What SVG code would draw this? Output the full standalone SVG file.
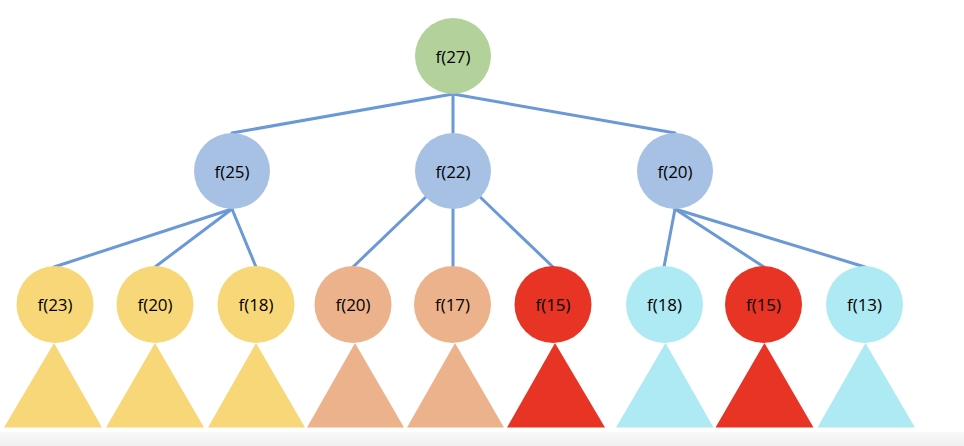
<svg xmlns="http://www.w3.org/2000/svg" width="964" height="446" viewBox="0 0 964 446">
  <defs>
    <linearGradient id="bar" x1="0" y1="0" x2="0" y2="1">
      <stop offset="0" stop-color="#f9f9f9"/>
      <stop offset="1" stop-color="#efefef"/>
    </linearGradient>
  </defs>
  <style>
    .edge { stroke: #6b99d6; stroke-width: 3; fill: none; stroke-linecap: round; }
    .lbl { font-family: "Open Sans", "Noto Sans", sans-serif; font-size: 17px; fill: #000; text-anchor: middle; dominant-baseline: central; }
    .green { fill: #b3d29b; }
    .blue { fill: #a7c1e5; }
    .yellow { fill: #f8d778; }
    .peach { fill: #ebb28c; }
    .red { fill: #e83424; }
    .cyan { fill: #aeeaf3; }
  </style>
  <rect x="0" y="0" width="964" height="446" fill="#ffffff"/>
  <rect x="0" y="432" width="964" height="14" fill="url(#bar)"/>

  <g id="connectors">
    <line class="edge" x1="453" y1="94" x2="232" y2="133"/>
    <line class="edge" x1="453" y1="94" x2="453" y2="133"/>
    <line class="edge" x1="453" y1="94" x2="675" y2="133"/>
    <line class="edge" x1="232" y1="209" x2="54" y2="267"/>
    <line class="edge" x1="232" y1="209" x2="155" y2="267"/>
    <line class="edge" x1="232" y1="209" x2="256" y2="267"/>
    <line class="edge" x1="453" y1="171" x2="353" y2="267"/>
    <line class="edge" x1="453" y1="171" x2="453" y2="267"/>
    <line class="edge" x1="453" y1="171" x2="553" y2="267"/>
    <line class="edge" x1="675" y1="209" x2="664" y2="267"/>
    <line class="edge" x1="675" y1="209" x2="764" y2="267"/>
    <line class="edge" x1="675" y1="209" x2="865" y2="267"/>
  </g>

  <g id="n27">
    <circle class="green" cx="453" cy="56" r="38"/>
    <text class="lbl" x="453" y="56">f(27)</text>
  </g>

  <g id="n25">
    <circle class="blue" cx="232" cy="171" r="38"/>
    <text class="lbl" x="232" y="171">f(25)</text>
  </g>
  <g id="n22">
    <circle class="blue" cx="453" cy="171" r="38"/>
    <text class="lbl" x="453" y="171">f(22)</text>
  </g>
  <g id="n20a">
    <circle class="blue" cx="675" cy="171" r="38"/>
    <text class="lbl" x="675" y="171">f(20)</text>
  </g>

  <g id="n23">
    <circle class="yellow" cx="55" cy="304.5" r="38.5"/>
    <polygon class="yellow" points="54,343 4,427.5 102,427.5"/>
    <text class="lbl" x="55" y="304.5">f(23)</text>
  </g>
  <g id="n20b">
    <circle class="yellow" cx="155" cy="304.5" r="38.5"/>
    <polygon class="yellow" points="155,343 106,427.5 204,427.5"/>
    <text class="lbl" x="155" y="304.5">f(20)</text>
  </g>
  <g id="n18a">
    <circle class="yellow" cx="256" cy="304.5" r="38.5"/>
    <polygon class="yellow" points="256,343 208,427.5 305,427.5"/>
    <text class="lbl" x="256" y="304.5">f(18)</text>
  </g>
  <g id="n20c">
    <circle class="peach" cx="353" cy="304.5" r="38.5"/>
    <polygon class="peach" points="355,343 307,427.5 404,427.5"/>
    <text class="lbl" x="353" y="304.5">f(20)</text>
  </g>
  <g id="n17">
    <circle class="peach" cx="452.5" cy="304.5" r="38.5"/>
    <polygon class="peach" points="455,343 407,427.5 504,427.5"/>
    <text class="lbl" x="452.5" y="304.5">f(17)</text>
  </g>
  <g id="n15a">
    <circle class="red" cx="553" cy="304.5" r="38.5"/>
    <polygon class="red" points="555,343 507,427.5 605,427.5"/>
    <text class="lbl" x="553" y="304.5">f(15)</text>
  </g>
  <g id="n18b">
    <circle class="cyan" cx="664.5" cy="304.5" r="38.5"/>
    <polygon class="cyan" points="665.5,343 616,427.5 713.5,427.5"/>
    <text class="lbl" x="664.5" y="304.5">f(18)</text>
  </g>
  <g id="n15b">
    <circle class="red" cx="763.5" cy="304.5" r="38.5"/>
    <polygon class="red" points="764.5,343 715.5,427.5 813.5,427.5"/>
    <text class="lbl" x="763.5" y="304.5">f(15)</text>
  </g>
  <g id="n13">
    <circle class="cyan" cx="864.5" cy="304.5" r="38.5"/>
    <polygon class="cyan" points="865.5,343 817.5,427.5 915,427.5"/>
    <text class="lbl" x="864.5" y="304.5">f(13)</text>
  </g>
</svg>
